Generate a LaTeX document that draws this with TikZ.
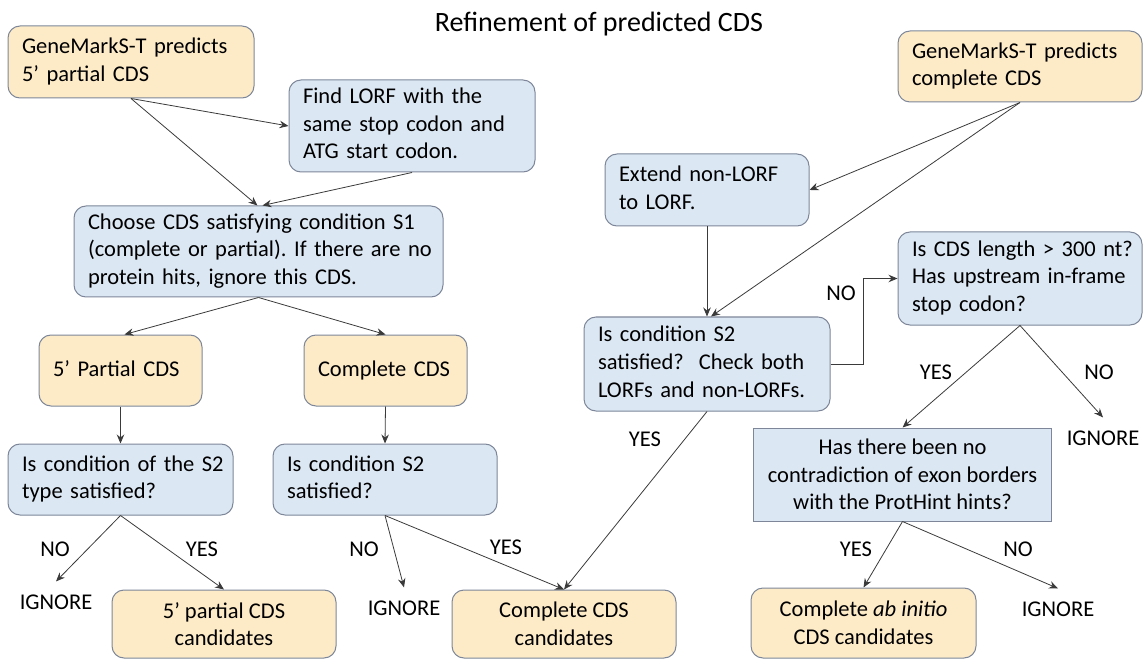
\documentclass[tikz,border=0pt]{standalone}
\usepackage{fontspec}
\setmainfont{Carlito}
\usetikzlibrary{arrows.meta,calc}
\definecolor{yfill}{HTML}{FDEBC8}
\definecolor{bfill}{HTML}{DCE7F4}
\definecolor{bdraw}{HTML}{7D8799}
\definecolor{arrcol}{HTML}{3A3A3A}
\newcommand{\boxlinesL}[1]{\begin{tabular}{@{}l@{}}#1\end{tabular}}
\frenchspacing
\begin{document}
\begin{tikzpicture}[x=1pt,y=-1pt,
  base/.style={draw=bdraw, line width=1pt, rounded corners=12pt,
    font=\fontsize{22.5}{27.5}\selectfont, inner xsep=14pt, inner ysep=0pt},
  ybox/.style={base, fill=yfill},
  bbox/.style={base, fill=bfill},
  lbl/.style={font=\fontsize{22.5}{27.5}\selectfont, inner sep=0pt},
  ign/.style={lbl, inner ysep=13pt},
  arr/.style={-{Stealth[length=9pt,width=7.5pt,inset=3pt]}, line width=0.8pt, draw=arrcol}]
\useasboundingbox (0,0) rectangle (1143,660);

\node[font=\fontsize{28}{34}\selectfont, anchor=base, inner sep=0pt] (title) at (599,32) {Refinement of predicted CDS};

% left column
\node[ybox, minimum height=72pt, text width=218pt, align=left] (A) at (131,62) {\boxlinesL{GeneMarkS-T predicts\\5’ partial CDS}};
\node[bbox, minimum height=92pt, text width=218pt, align=left] (B) at (412,126) {\boxlinesL{Find LORF with the\\same stop codon and\\ATG start codon.}};
\node[bbox, minimum height=91pt, text width=341pt, align=left] (C) at (258.5,251.5) {\boxlinesL{Choose CDS satisfying condition S1\\(complete or partial). If there are no\\protein hits, ignore this CDS.}};
\node[ybox, minimum height=71pt, text width=135pt, align=left] (P) at (120.5,370.5) {\boxlinesL{5’ Partial CDS}};
\node[ybox, minimum height=71pt, text width=135pt, align=left] (Q) at (385.5,370.5) {\boxlinesL{Complete CDS}};
\node[bbox, minimum height=71pt, text width=197pt, align=left] (R) at (120.5,479.5) {\boxlinesL{Is condition of the S2\\type satisfied?}};
\node[bbox, minimum height=71pt, text width=196pt, align=left] (S) at (385,479.5) {\boxlinesL{Is condition S2\\satisfied?}};
\node[ybox, minimum height=68pt, minimum width=224pt, align=center] (T) at (224,624) {5’ partial CDS\\candidates};
\node[ybox, minimum height=68pt, minimum width=224pt, align=center] (U) at (564,624) {Complete CDS\\candidates};

% right column
\node[ybox, minimum height=71pt, text width=216pt, align=left] (D) at (1020,66.5) {\boxlinesL{GeneMarkS-T predicts\\complete CDS}};
\node[bbox, minimum height=72pt, text width=176pt, align=left] (E) at (707,190) {\boxlinesL{Extend non-LORF\\to LORF.}};
\node[bbox, minimum height=93pt, text width=216pt, align=left] (F) at (1020,278.5) {\boxlinesL{Is CDS length > 300 nt?\\Has upstream in-frame\\stop codon?}};
\node[bbox, minimum height=94pt, text width=218pt, align=left] (G) at (707,364) {\boxlinesL{Is condition S2\\satisfied?\ \ Check both\\LORFs and non-LORFs.}};
\node[bbox, rounded corners=0pt, minimum height=93pt, minimum width=297pt, align=center] (H) at (902.5,474.5) {Has there been no\\contradiction of exon borders\\with the ProtHint hints?};
\node[ybox, minimum height=70pt, minimum width=225pt, align=center] (J) at (863.5,623) {Complete \textit{ab initio}\\CDS candidates};

% labels
\node[lbl] (no1) at (55,549) {NO};
\node[lbl] (yes1) at (202,549) {YES};
\node[ign] (ig1) at (56,602) {IGNORE};
\node[lbl] (no2) at (364,549) {NO};
\node[lbl] (yes2) at (506,547) {YES};
\node[ign] (ig2) at (404,608) {IGNORE};
\node[lbl] (yes3) at (645,439) {YES};
\node[lbl] (no4) at (841,293) {NO};
\node[lbl] (yes5) at (936,372) {YES};
\node[lbl] (no5) at (1099,372) {NO};
\node[ign] (ig5) at (1103,438) {IGNORE};
\node[lbl] (yes6) at (856,549) {YES};
\node[lbl] (no6) at (1018,549) {NO};
\node[ign] (ig6) at (1058,609) {IGNORE};

% connectors
\draw[arr] (A.south) -- (B.west);
\draw[arr] (A.south) -- ([xshift=-1pt]C.north);
\draw[arr] (B.south) -- ([xshift=4pt]C.north);
\draw[arr] (C.south) -- ([xshift=4pt]P.north);
\draw[arr] (C.south) -- (Q.north);
\draw[arr] (P.south) -- (R.north);
\draw[arr] (Q.south) -- (S.north);
\draw[arr] (R.south) -- (ig1.north);
\draw[arr] (R.south) -- (T.north);
\draw[arr] (S.south) -- (ig2.north);
\draw[arr] (S.south) -- (U.north);
\draw[arr] (D.south) -- (E.east);
\draw[arr] (D.south) -- ([xshift=4pt]G.north);
\draw[arr] (E.south) -- (G.north);
\draw[arr] (G.south) -- (U.north);
\draw[arr] (G.east) -- ++(33,0) |- (F.west);
\draw[arr] (F.south) -- (H.north);
\draw[arr] (F.south) -- (ig5.north);
\draw[arr] (H.south) -- (J.north);
\draw[arr] (H.south) -- (ig6.north);
\end{tikzpicture}
\end{document}
